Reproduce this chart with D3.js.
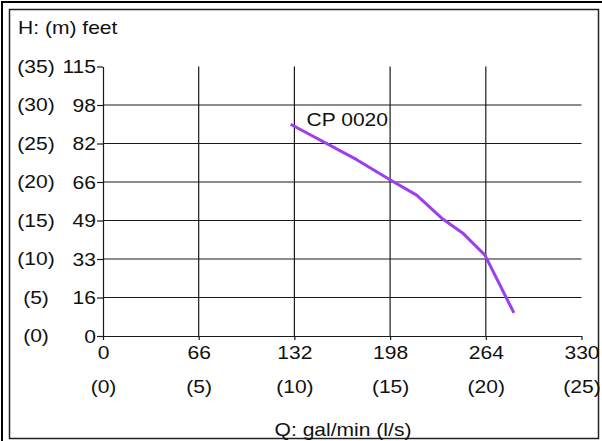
<!DOCTYPE html>
<html>
<head>
<meta charset="utf-8">
<script src="https://cdn.jsdelivr.net/npm/d3@7"></script>
<style>
  html, body { margin: 0; padding: 0; background: #ffffff; }
  svg { display: block; }
</style>
</head>
<body>
<div id="chart"></div>
<script>
// Pump curve CP 0020: head vs flow, dual unit axes

const flowTicks = [0, 66, 132, 198, 264, 330];          // gal/min
const flowLitreLabels = ["(0)", "(5)", "(10)", "(15)", "(20)", "(25)"];
const headTicks = [0, 5, 10, 15, 20, 25, 30, 35];        // metres
const headFeetLabels = ["0", "16", "33", "49", "66", "82", "98", "115"];
const headMetreLabels = ["(0)", "(5)", "(10)", "(15)", "(20)", "(25)", "(30)", "(35)"];

// curve: flow in gal/min, head in metres
const curveFlow = [129.4, 175, 197.9, 216.3, 233.6, 248.5, 263.4, 283.4];
const curveHead = [27.5, 22.9, 20.3, 18.3, 15.3, 13.3, 10.5, 3.0];
const curveName = "CP 0020";

const width = 602;
const height = 441;
const font = '"Liberation Sans", Arial, sans-serif';
const fontSize = 18;
const stretch = 1.17; // labels in the picture are drawn wide

const x = d3.scaleLinear().domain([0, 330]).range([103, 581.5]);
const y = d3.scaleLinear().domain([0, 35]).range([336, 66.5]);

const svg = d3.select("#chart")
  .append("svg")
  .attr("width", width)
  .attr("height", height)
  .attr("viewBox", [0, 0, width, height]);

svg.append("rect")
  .attr("width", width)
  .attr("height", height)
  .attr("fill", "#ffffff");

// double frame
svg.append("path")
  .attr("d", "M2,441 L2,2 L602,2")
  .attr("fill", "none")
  .attr("stroke", "#000")
  .attr("stroke-width", 2);

svg.append("rect")
  .attr("x", 9.5)
  .attr("y", 9.5)
  .attr("width", 589)
  .attr("height", 429)
  .attr("fill", "none")
  .attr("stroke", "#222")
  .attr("stroke-width", 1.5);

function label(px, py, str, anchor) {
  return svg.append("text")
    .attr("transform", "translate(" + px + "," + py + ") scale(" + stretch + ",1)")
    .attr("text-anchor", anchor || "start")
    .attr("font-family", font)
    .attr("font-size", fontSize)
    .attr("fill", "#111")
    .text(str);
}

// grid
const grid = svg.append("g")
  .attr("stroke", "#1a1a1a")
  .attr("stroke-width", 1.2);

grid.selectAll("line.v")
  .data(flowTicks.slice(1, -1))
  .join("line")
  .attr("class", "v")
  .attr("x1", function(d) { return x(d); })
  .attr("x2", function(d) { return x(d); })
  .attr("y1", y(35))
  .attr("y2", y(0));

grid.selectAll("line.h")
  .data(headTicks.slice(1, -1))
  .join("line")
  .attr("class", "h")
  .attr("x1", x(0))
  .attr("x2", x(330))
  .attr("y1", function(d) { return y(d); })
  .attr("y2", function(d) { return y(d); });

// axes
const xAxis = svg.append("g")
  .attr("transform", "translate(0," + y(0) + ")")
  .call(d3.axisBottom(x)
    .tickValues(flowTicks)
    .tickSize(4)
    .tickSizeOuter(0)
    .tickFormat(d3.format("d")));

xAxis.select(".domain").attr("stroke", "#1a1a1a").attr("stroke-width", 1.2);
xAxis.selectAll(".tick line").attr("stroke", "#1a1a1a").attr("stroke-width", 1.2);
xAxis.selectAll(".tick text")
  .attr("y", 23.5)
  .attr("dy", null)
  .attr("transform", "scale(" + stretch + ",1)")
  .attr("font-family", font)
  .attr("font-size", fontSize)
  .attr("fill", "#111");

const yAxis = svg.append("g")
  .attr("transform", "translate(" + x(0) + ",0)")
  .call(d3.axisLeft(y)
    .tickValues(headTicks)
    .tickSize(6)
    .tickSizeOuter(0)
    .tickPadding(0)
    .tickFormat(function(d, i) { return headFeetLabels[i]; }));

yAxis.select(".domain").attr("stroke", "#1a1a1a").attr("stroke-width", 1.2);
yAxis.selectAll(".tick line").attr("stroke", "#1a1a1a").attr("stroke-width", 1.2);
yAxis.selectAll(".tick text")
  .attr("dy", 6.4)
  .attr("transform", "scale(" + stretch + ",1)")
  .attr("font-family", font)
  .attr("font-size", fontSize)
  .attr("fill", "#111");

// secondary unit labels
headTicks.forEach(function(d, i) {
  label(36, y(d) + 6.4, headMetreLabels[i], "middle");
});

flowTicks.forEach(function(d, i) {
  label(x(d) + 0.5, 393, flowLitreLabels[i], "middle");
});

label(18, 34, "H: (m) feet", "start");
label(343, 435.5, "Q: gal/min (l/s)", "middle");

// pump curve
const points = curveFlow.map(function(q, i) { return [q, curveHead[i]]; });

svg.append("path")
  .datum(points)
  .attr("fill", "none")
  .attr("stroke", "#9b3ff0")
  .attr("stroke-width", 3)
  .attr("stroke-linejoin", "round")
  .attr("d", d3.line()
    .x(function(d) { return x(d[0]); })
    .y(function(d) { return y(d[1]); }));

label(306.5, 126, curveName, "start");
</script>
</body>
</html>
